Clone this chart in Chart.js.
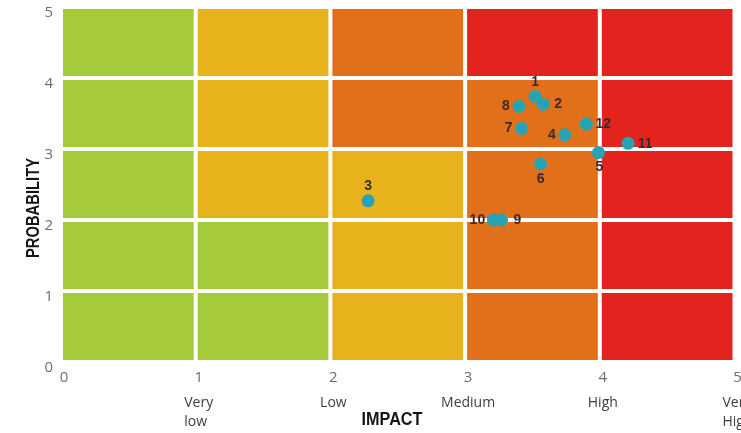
<!DOCTYPE html>
<html><head><meta charset="utf-8">
<script src="https://cdn.jsdelivr.net/npm/chart.js@4.4.1/dist/chart.umd.min.js"></script>
<style>html,body{margin:0;padding:0;background:#fff;}</style>
</head><body>
<canvas id="c" width="741" height="433"></canvas>
<script>
// ---- data ----
const impactTicks = [0, 1, 2, 3, 4, 5];
const impactNames = [null, ['Very', 'low'], ['Low'], ['Medium'], ['High'], ['Very', 'High']];
const probabilityTicks = [0, 1, 2, 3, 4, 5];
const riskIds = ['1', '2', '3', '4', '5', '6', '7', '8', '9', '10', '11', '12'];
const riskImpact = [3.52, 3.58, 2.28, 3.74, 3.99, 3.56, 3.42, 3.40, 3.27, 3.21, 4.21, 3.90];
const riskProbability = [3.74, 3.63, 2.27, 3.20, 2.95, 2.79, 3.29, 3.60, 2.00, 2.00, 3.08, 3.35];
// risk level of each cell; rows from probability 0-1 upward, columns impact 0-1 .. 4-5
const riskLevelRows = [
  [1, 1, 2, 3, 4],
  [1, 1, 2, 3, 4],
  [1, 2, 2, 3, 4],
  [1, 2, 3, 3, 4],
  [1, 2, 3, 4, 4]
];
const axisTitles = { x: 'IMPACT', y: 'PROBABILITY' };

// ---- styles ----
const levelColors = { 1: '#A6CB3A', 2: '#E8B21C', 3: '#E2701A', 4: '#E2231E' };
const labelOffsets = {
  '1': [0, -14], '2': [15, 0], '3': [0, -15], '4': [-13, 0], '5': [1, 15], '6': [0, 15],
  '7': [-13, 0], '8': [-13, 0], '9': [16, 0], '10': [-16, 0], '11': [17, 1], '12': [17, 0]
};

const cellsPlugin = {
  id: 'cells',
  beforeDatasetsDraw(chart) {
    const { ctx, scales: { x, y } } = chart;
    ctx.save();
    riskLevelRows.forEach((row, r) => {
      row.forEach((lvl, c) => {
        const x1 = x.getPixelForValue(c) + 2, x2 = x.getPixelForValue(c + 1) - 2;
        const y1 = y.getPixelForValue(r + 1) + 2, y2 = y.getPixelForValue(r) - 2;
        ctx.fillStyle = levelColors[lvl];
        ctx.fillRect(x1, y1, x2 - x1, y2 - y1);
      });
    });
    ctx.restore();
  }
};

const pointLabelsPlugin = {
  id: 'pointLabels',
  afterDatasetsDraw(chart) {
    const { ctx } = chart;
    const meta = chart.getDatasetMeta(0);
    ctx.save();
    ctx.font = 'bold 14px "Liberation Sans", Arial, sans-serif';
    ctx.fillStyle = '#3a2b2b';
    ctx.textAlign = 'center';
    ctx.textBaseline = 'middle';
    meta.data.forEach((el, i) => {
      const id = riskIds[i];
      const off = labelOffsets[id] || [0, -14];
      ctx.fillText(id, el.x + off[0], el.y + off[1]);
    });
    ctx.restore();
  }
};

const extraTextPlugin = {
  id: 'extraText',
  afterDraw(chart) {
    const { ctx, chartArea, scales: { x } } = chart;
    ctx.save();
    // category names under impact ticks
    ctx.font = '14px "Open Sans", sans-serif';
    ctx.fillStyle = '#3d3d3d';
    ctx.textBaseline = 'middle';
    ctx.textAlign = 'left';
    impactNames.forEach((lines, i) => {
      if (!lines) return;
      const cx = x.getPixelForValue(impactTicks[i]) + 3;
      const w = Math.max(...lines.map(l => ctx.measureText(l).width));
      lines.forEach((l, k) => {
        ctx.fillText(l, cx - w / 2, chartArea.bottom + 41 + k * 19);
      });
    });
    // axis titles
    ctx.fillStyle = '#151515';
    ctx.font = 'bold 18px "Liberation Sans", Arial, sans-serif';
    ctx.textAlign = 'center';
    ctx.textBaseline = 'middle';
    ctx.save();
    ctx.translate(392, 420);
    ctx.scale(0.9, 1);
    ctx.fillText(axisTitles.x, 0, 0);
    ctx.restore();
    ctx.save();
    ctx.translate(34, 208);
    ctx.rotate(-Math.PI / 2);
    ctx.scale(0.82, 1);
    ctx.fillText(axisTitles.y, 0, 0);
    ctx.restore();
    ctx.restore();
  }
};

const noScalePadding = s => { s.paddingTop = 0; s.paddingBottom = 0; s.paddingLeft = 0; s.paddingRight = 0; };

new Chart(document.getElementById('c'), {
  type: 'scatter',
  data: {
    datasets: [{
      data: riskIds.map((id, i) => ({ x: riskImpact[i], y: riskProbability[i] })),
      backgroundColor: '#27A4B4',
      borderWidth: 0,
      pointRadius: 6.5,
      pointHoverRadius: 6.5
    }]
  },
  options: {
    responsive: false,
    animation: false,
    events: [],
    layout: { padding: { top: 7, right: 4, left: 0, bottom: 0 } },
    plugins: { legend: { display: false }, tooltip: { enabled: false } },
    scales: {
      x: {
        type: 'linear', min: impactTicks[0], max: impactTicks[impactTicks.length - 1],
        afterBuildTicks: s => { s.ticks = impactTicks.map(v => ({ value: v })); },
        grid: { display: false, drawTicks: false }, border: { display: false },
        ticks: { color: '#6e6e6e', font: { family: '"Open Sans", sans-serif', size: 15 }, padding: 7, labelOffset: 3, maxRotation: 0 },
        afterFit: s => { s.height = 71; noScalePadding(s); }
      },
      y: {
        type: 'linear', min: probabilityTicks[0], max: probabilityTicks[probabilityTicks.length - 1],
        afterBuildTicks: s => { s.ticks = probabilityTicks.map(v => ({ value: v })); },
        grid: { display: false, drawTicks: false }, border: { display: false },
        ticks: { color: '#6e6e6e', font: { family: '"Open Sans", sans-serif', size: 15 }, padding: 8, labelOffset: 6 },
        afterFit: s => { s.width = 61; noScalePadding(s); }
      }
    }
  },
  plugins: [cellsPlugin, pointLabelsPlugin, extraTextPlugin]
});
</script>
</body></html>
